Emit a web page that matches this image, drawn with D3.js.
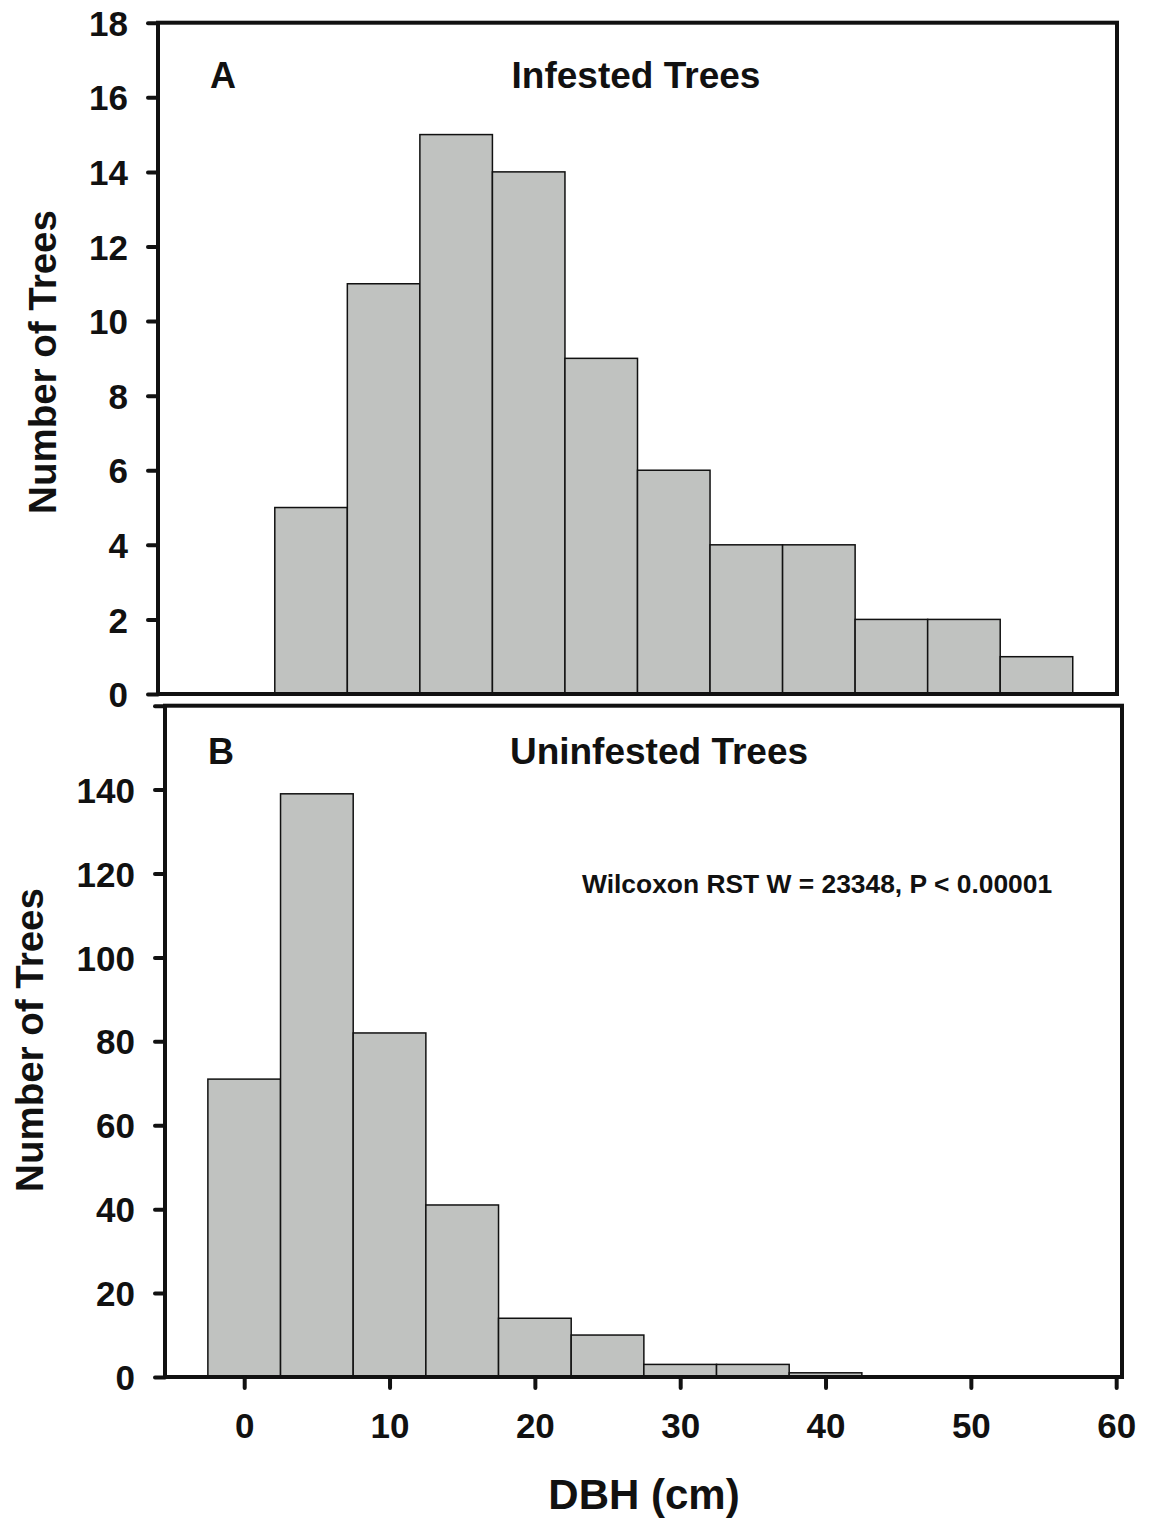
<!DOCTYPE html>
<html>
<head>
<meta charset="utf-8">
<script src="https://cdn.jsdelivr.net/npm/d3@7"></script>
<style>
  body { margin: 0; background: #fff; }
  text { font-family: "Liberation Sans", Arial, sans-serif; font-weight: bold; fill: #111; }
</style>
</head>
<body>
<script>
// bin edges (cm) and counts
var infestedBins = [2.5, 7.5, 12.5, 17.5, 22.5, 27.5, 32.5, 37.5, 42.5, 47.5, 52.5];
var infestedCounts = [5, 11, 15, 14, 9, 6, 4, 4, 2, 2, 1];
var uninfestedBins = [-2.5, 2.5, 7.5, 12.5, 17.5, 22.5, 27.5, 32.5, 37.5];
var uninfestedCounts = [71, 139, 82, 41, 14, 10, 3, 3, 1];
var binWidth = 5;

var topTicks = [0, 2, 4, 6, 8, 10, 12, 14, 16, 18];
var bottomTicks = [0, 20, 40, 60, 80, 100, 120, 140, 160];
var xTicks = [0, 10, 20, 30, 40, 50, 60];

var width = 1152, height = 1521;

var svg = d3.select("body").append("svg")
    .attr("width", width)
    .attr("height", height);

// panel A scales
var xA = d3.scaleLinear().domain([-5.55, 60.55]).range([158, 1117]);
var yA = d3.scaleLinear().domain([0, 18]).range([694, 22.7]);

// panel B scales
var xB = d3.scaleLinear().domain([-5.45, 60.4]).range([165, 1122]);
var yB = d3.scaleLinear().domain([0, 160]).range([1377, 705.7]);

function drawPanel(x, y, bins, counts, ticks, labelEvery) {
  var g = svg.append("g");

  //bars
  g.selectAll("rect.bar")
    .data(bins.map(function(b, i) { return {x0: b, x1: b + binWidth, n: counts[i]}; }))
    .enter().append("rect")
      .attr("class", "bar")
      .attr("x", function(d) { return x(d.x0); })
      .attr("y", function(d) { return y(d.n); })
      .attr("width", function(d) { return x(d.x1) - x(d.x0); })
      .attr("height", function(d) { return y(0) - y(d.n); })
      .attr("fill", "#c0c2c0")
      .attr("stroke", "#111")
      .attr("stroke-width", 1.5);

  //y axis ticks and labels
  var yAxis = g.append("g")
      .attr("transform", "translate(" + x.range()[0] + ",0)")
      .call(d3.axisLeft(y).tickValues(ticks).tickSize(10).tickPadding(20)
        .tickFormat(function(d) { return labelEvery(d) ? d : ""; }));
  yAxis.select(".domain").remove();
  yAxis.selectAll("line").attr("stroke", "#111").attr("stroke-width", 4).attr("stroke-linecap", "round");
  yAxis.selectAll("text").style("font-size", "35px").attr("dy", "0.36em");

  //frame
  g.append("rect")
    .attr("x", x.range()[0])
    .attr("y", y.range()[1])
    .attr("width", x.range()[1] - x.range()[0])
    .attr("height", y.range()[0] - y.range()[1])
    .attr("fill", "none")
    .attr("stroke", "#111")
    .attr("stroke-width", 4);
  return g;
}

var gA = drawPanel(xA, yA, infestedBins, infestedCounts, topTicks, function() { return true; });
var gB = drawPanel(xB, yB, uninfestedBins, uninfestedCounts, bottomTicks, function(d) { return d < 160; });

//x axis on bottom panel
var xAxis = svg.append("g")
    .attr("transform", "translate(0," + yB(0) + ")")
    .call(d3.axisBottom(xB).tickValues(xTicks).tickSize(11).tickPadding(25));
xAxis.select(".domain").remove();
xAxis.selectAll("line").attr("stroke", "#111").attr("stroke-width", 4).attr("stroke-linecap", "round");
xAxis.selectAll("text").style("font-size", "35px");

//panel labels
svg.append("text").attr("x", 223).attr("y", 88).attr("text-anchor", "middle")
    .style("font-size", "36px").text("A");
svg.append("text").attr("x", 636).attr("y", 88).attr("text-anchor", "middle")
    .style("font-size", "37px").text("Infested Trees");
svg.append("text").attr("x", 221).attr("y", 764).attr("text-anchor", "middle")
    .style("font-size", "36px").text("B");
svg.append("text").attr("x", 659).attr("y", 764).attr("text-anchor", "middle")
    .style("font-size", "37px").text("Uninfested Trees");
svg.append("text").attr("x", 582).attr("y", 893)
    .style("font-size", "26.4px").text("Wilcoxon RST W = 23348, P < 0.00001");

//axis titles
svg.append("text").attr("transform", "translate(56,362) rotate(-90)").attr("text-anchor", "middle")
    .style("font-size", "38.5px").text("Number of Trees");
svg.append("text").attr("transform", "translate(43,1040) rotate(-90)").attr("text-anchor", "middle")
    .style("font-size", "38.5px").text("Number of Trees");
svg.append("text").attr("x", 644).attr("y", 1509).attr("text-anchor", "middle")
    .style("font-size", "42px").text("DBH (cm)");
</script>
</body>
</html>
